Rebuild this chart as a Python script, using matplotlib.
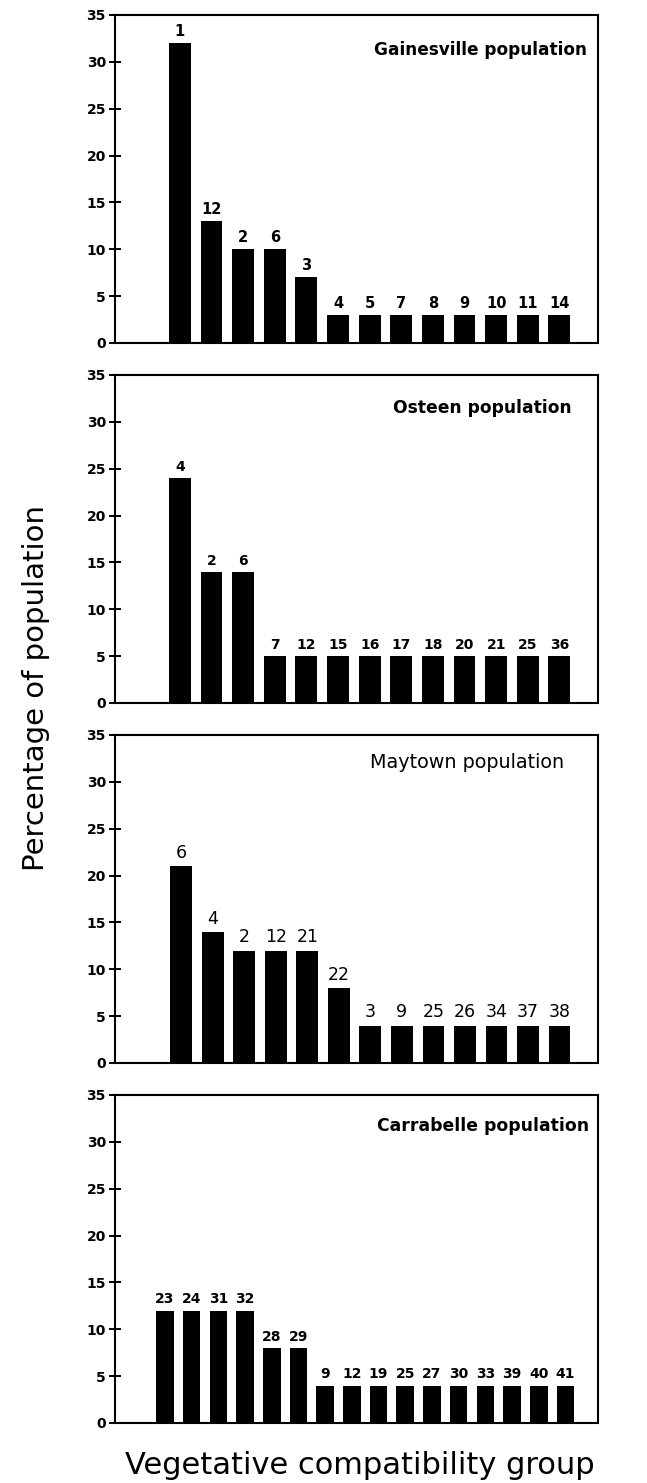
import matplotlib
matplotlib.use("Agg")
import matplotlib.pyplot as plt
import numpy as np

# Data: vegetative compatibility groups and % of population, per site
populations = ["Gainesville population", "Osteen population",
               "Maytown population", "Carrabelle population"]

gainesville_vcg = ["1", "12", "2", "6", "3", "4", "5", "7", "8", "9", "10", "11", "14"]
gainesville_pct = [32, 13, 10, 10, 7, 3, 3, 3, 3, 3, 3, 3, 3]

osteen_vcg = ["4", "2", "6", "7", "12", "15", "16", "17", "18", "20", "21", "25", "36"]
osteen_pct = [24, 14, 14, 5, 5, 5, 5, 5, 5, 5, 5, 5, 5]

maytown_vcg = ["6", "4", "2", "12", "21", "22", "3", "9", "25", "26", "34", "37", "38"]
maytown_pct = [21, 14, 12, 12, 12, 8, 4, 4, 4, 4, 4, 4, 4]

carrabelle_vcg = ["23", "24", "31", "32", "28", "29", "9", "12", "19", "25",
                  "27", "30", "33", "39", "40", "41"]
carrabelle_pct = [12, 12, 12, 12, 8, 8, 4, 4, 4, 4, 4, 4, 4, 4, 4, 4]

yticks = [0, 5, 10, 15, 20, 25, 30, 35]

W, H = 647, 1483
fig = plt.figure(figsize=(W / 100, H / 100), dpi=100)

plt.rcParams['font.family'] = ['DejaVu Sans']

# vcg labels, values, top (px), title x/y, label weight, label size, title size, xlim left, bar width
panels = [
    (gainesville_vcg, gainesville_pct, 15, 0.978, 0.893, 'bold', 10.5, 12.2, -2.05, 0.69),
    (osteen_vcg, osteen_pct, 375, 0.945, 0.90, 'bold', 10, 12.3, -2.05, 0.69),
    (maytown_vcg, maytown_pct, 735, 0.93, 0.915, 'normal', 12.5, 13.8, -2.1, 0.69),
    (carrabelle_vcg, carrabelle_pct, 1095, 0.982, 0.905, 'bold', 10, 12.4, -1.87, 0.66),
]

left_px, right_px, height_px = 115, 598, 328

for i, (labels, vals, top_px, tx, ty, lw, lsize, tsize, x0, width) in enumerate(panels):
    ax = fig.add_axes([left_px / W, 1 - (top_px + height_px) / H,
                       (right_px - left_px) / W, height_px / H])
    n = len(vals)
    x = np.arange(n)
    rects = ax.bar(x, vals, width, color="black")
    for rect, lab in zip(rects, labels):
        ax.annotate(lab, xy=(rect.get_x() + rect.get_width() / 2, rect.get_height()),
                    xytext=(0, 3), textcoords="offset points",
                    ha='center', va='bottom', fontsize=lsize, fontweight=lw)
    ax.set_xlim(x0, n - 1 + 1.22)
    ax.set_ylim(0, 35)
    ax.set_xticks([])
    ax.set_yticks(yticks)
    ax.set_yticklabels([str(t) for t in yticks], fontweight='bold', fontsize=10)
    ax.tick_params(axis='y', direction='inout', length=9, width=1.4, pad=2)
    for s in ax.spines.values():
        s.set_linewidth(1.5)
    ax.text(tx, ty, populations[i], transform=ax.transAxes, ha='right', va='center',
            fontsize=tsize, fontweight='bold' if lw == 'bold' else 'normal')

fig.text(36 / W, 1 - 688 / H, "Percentage of population", rotation=90,
         ha='center', va='center', fontsize=21)
fig.text(360 / W, 1 - 1466 / H, "Vegetative compatibility group",
         ha='center', va='center', fontsize=22)

fig.savefig("out.png", dpi=100)
